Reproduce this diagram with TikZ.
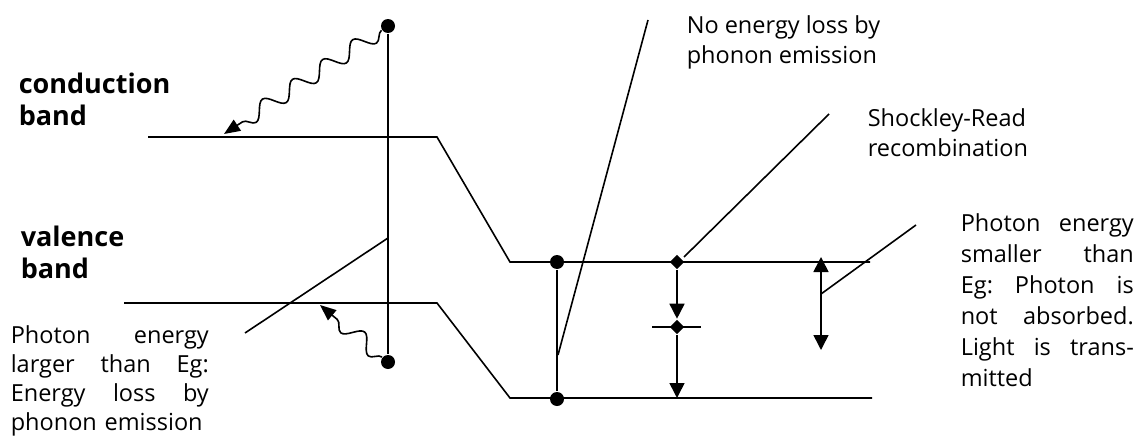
\documentclass[tikz,border=0pt]{standalone}
\usepackage{fontspec}
\setmainfont{Open Sans}
\usetikzlibrary{arrows.meta,shapes.geometric,decorations.pathmorphing}

\tikzset{
  dot/.style={circle,fill,inner sep=0pt,minimum size=14pt},
  trap/.style={diamond,fill,inner sep=0pt,minimum size=15pt},
  headed/.style={-{Triangle[length=15pt,width=15pt]}},
  wave/.style={decorate,decoration={snake,segment length=36pt,amplitude=8pt,post length=16pt},
    -{Triangle[length=16pt,width=13pt]}},
  bandlabel/.style={anchor=base west,align=left,inner sep=0pt,font=\bfseries\fontsize{27}{32}\selectfont},
  note/.style={anchor=base west,align=left,inner sep=0pt,font=\fontsize{23.5}{30}\selectfont}
}
\frenchspacing

\begin{document}
\begin{tikzpicture}[x=1pt,y=-1pt,line width=1.6pt]
    \useasboundingbox (0,0) rectangle (1141,439);

    % Bands
    \draw (148,137) -- (437,137) -- (510,262) -- (870,262);
    \draw (124,303) -- (437,303) -- (510,398) -- (872,398);
    \node[bandlabel] (cb) at (18,125) {conduction\\band};
    \node[bandlabel] (vb) at (20,278) {valence\\band};

    % Absorption with phonon emission
    \node[dot] (ctop) at (388,26) {};
    \node[dot] (cbot) at (388,362) {};
    \draw (ctop) -- (cbot);
    \coordinate (hitC) at (224,134);
    \coordinate (hitV) at (320,305);
    \draw[wave] (ctop) -- (hitC);
    \draw[wave] (cbot) -- (hitV);

    % Direct recombination
    \node[dot] (rtop) at (557,262) {};
    \node[dot] (rbot) at (557,399) {};
    \draw (rtop) -- (rbot);

    % Shockley-Read
    \node[trap] (trapA) at (677,262) {};
    \node[trap] (trapB) at (677,327) {};
    \coordinate (trapL) at (652,327);
    \coordinate (trapR) at (701,327);
    \coordinate (trapE) at (677,398);
    \draw (trapL) -- (trapR);
    \draw[headed] (trapA) -- (trapB);
    \draw[headed] (trapB) -- (trapE);

    % Transmitted photon
    \coordinate (txTop) at (821,257);
    \coordinate (txBot) at (821,350);
    \coordinate (txMid) at (821,294);
    \draw[{Triangle[length=15pt,width=15pt]}-{Triangle[length=15pt,width=15pt]}] (txTop) -- (txBot);

    % Labels and pointers
    \node[note] (lossTxt) at (686,63) {No energy loss by\\phonon emission};
    \coordinate (lossEnd) at (648,20);
    \coordinate (lossFoot) at (558,355);
    \draw (lossFoot) -- (lossEnd);

    \node[note] (srTxt) at (867,156) {Shockley-Read\\recombination};
    \coordinate (srEnd) at (829,114);
    \coordinate (srFoot) at (684,257);
    \draw (srFoot) -- (srEnd);

    \node[note,text width=200pt,font=\fontsize{23.5}{29}\selectfont] (largeTxt) at (10,343)
      {\makebox[198pt][l]{Photon\hfill energy}\\\makebox[198pt][l]{larger\hfill than\hfill Eg:}\\\makebox[198pt][l]{Energy\hfill loss\hfill by}\\phonon emission};
    \coordinate (largeEnd) at (245,333);
    \coordinate (largeFoot) at (388,238);
    \draw (largeEnd) -- (largeFoot);

    \node[note,text width=175pt,font=\fontsize{23.5}{31}\selectfont] (smallTxt) at (960,231)
      {\makebox[173pt][l]{Photon\hfill energy}\\\makebox[173pt][l]{smaller\hfill than}\\\makebox[173pt][l]{Eg:\hfill Photon\hfill is}\\\makebox[173pt][l]{not\hfill absorbed.}\\\makebox[173pt][l]{Light\hfill is\hfill trans-}\\mitted};
    \coordinate (smallEnd) at (916,225);
    \draw (txMid) -- (smallEnd);
\end{tikzpicture}
\end{document}
